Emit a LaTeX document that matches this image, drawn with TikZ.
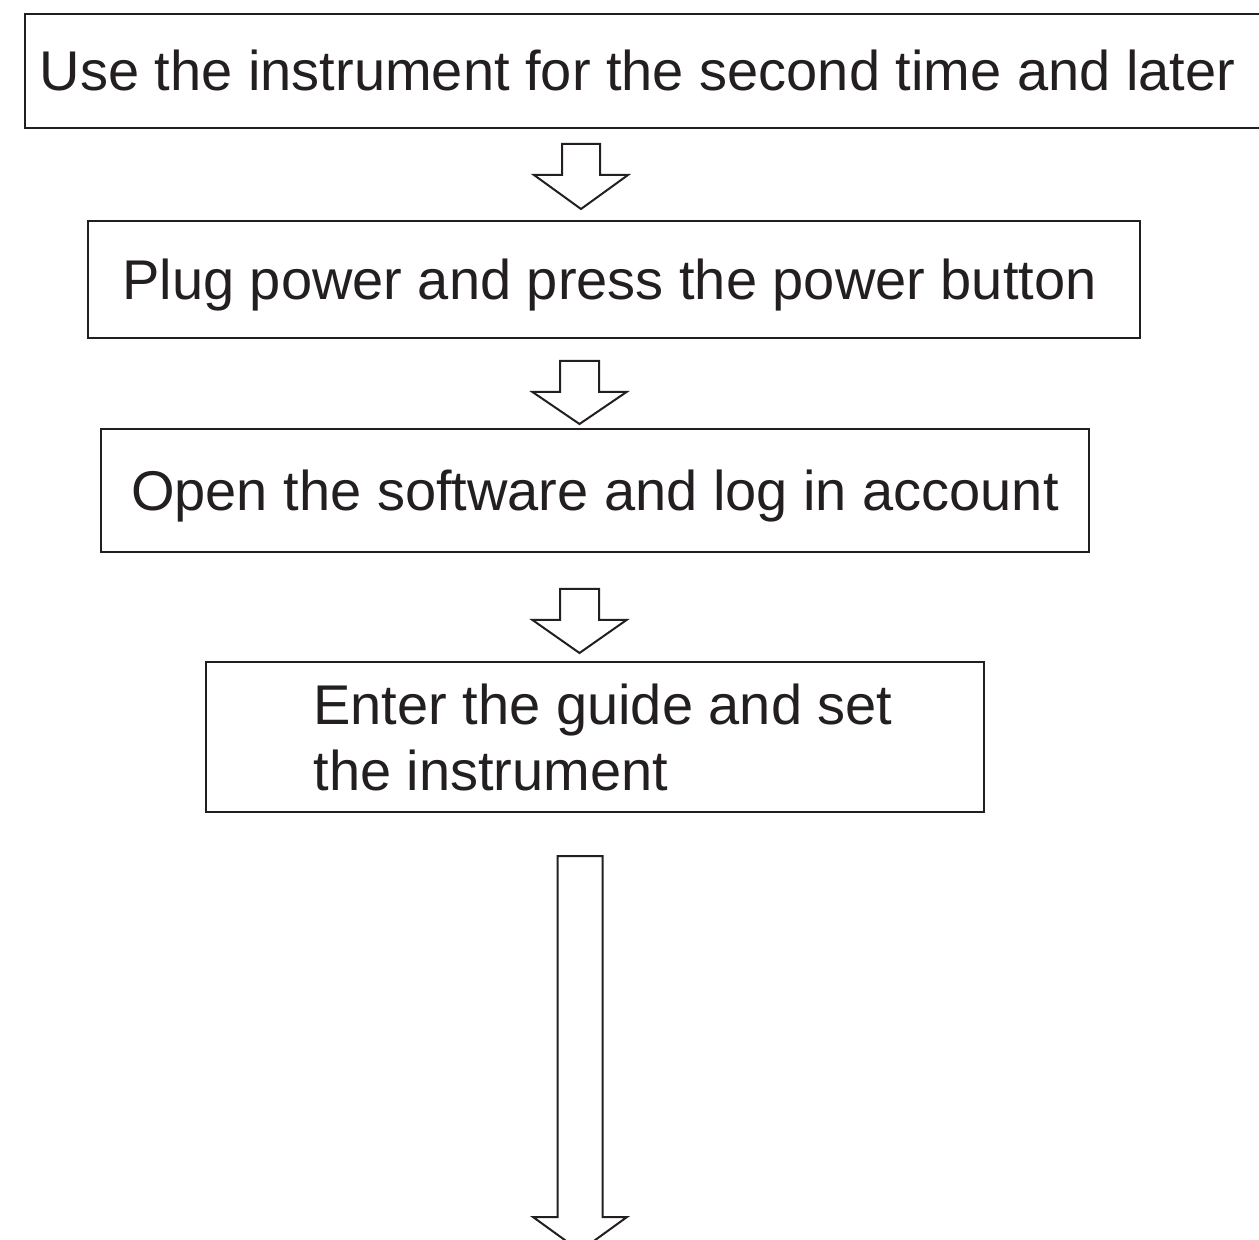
\documentclass[tikz,border=0pt]{standalone}
\usepackage{fontspec}
\setmainfont{Liberation Sans}
\usepackage{xcolor}
\definecolor{ink}{RGB}{35,31,32}

% block arrow pointing down: top point, shaft half width, shaft length, head length
\newcommand{\hollowarrow}[4]{%
  \draw[hollow] (#1) ++(-#2,0) -- ++(0,#3) -- ++(#2-47,0) -- ++(47,#4)
    -- ++(47,-#4) -- ++(#2-47,0) -- ++(0,-#3) -- cycle;}

\tikzset{
  stepbox/.style={draw=ink, line width=1pt, text=ink, inner sep=0pt,
    font=\fontsize{28}{33}\selectfont},
  oneline/.style={text height=20pt, text depth=0pt},
  hollow/.style={draw=ink, line width=1pt, line join=miter},
}

\begin{document}
\begin{tikzpicture}[x=0.5pt,y=-0.5pt]
        \useasboundingbox (0,0) rectangle (1259,1240);
        \clip (0,0) rectangle (1259,1240);
        % steps
        \node[stepbox,oneline,minimum width=620pt,minimum height=57pt] (use) at (645,71) {Use the instrument for the second time and later\kern7.5pt};
        \node[stepbox,oneline,minimum width=526pt,minimum height=58.5pt] (plug) at (614,279.5) {Plug power and press the power button\kern4.5pt};
        \node[stepbox,oneline,minimum width=494pt,minimum height=61.5pt] (open) at (595,490.5) {Open the software and log in account};
        \node[stepbox,align=left,minimum width=389pt,minimum height=75pt] (guide) at (595,737) {\hspace*{8pt}Enter the guide and set\\\hspace*{8pt}the instrument};
        % arrows
        \coordinate (a1) at (581,144);
        \coordinate (a2) at (579.5,361);
        \coordinate (a3) at (579.5,589);
        \coordinate (a4) at (580,856);
        \hollowarrow{a1}{19}{31}{34}
        \hollowarrow{a2}{19.5}{31}{32}
        \hollowarrow{a3}{19.5}{31}{33}
        \hollowarrow{a4}{22.5}{361}{34}
    \end{tikzpicture}
\end{document}
